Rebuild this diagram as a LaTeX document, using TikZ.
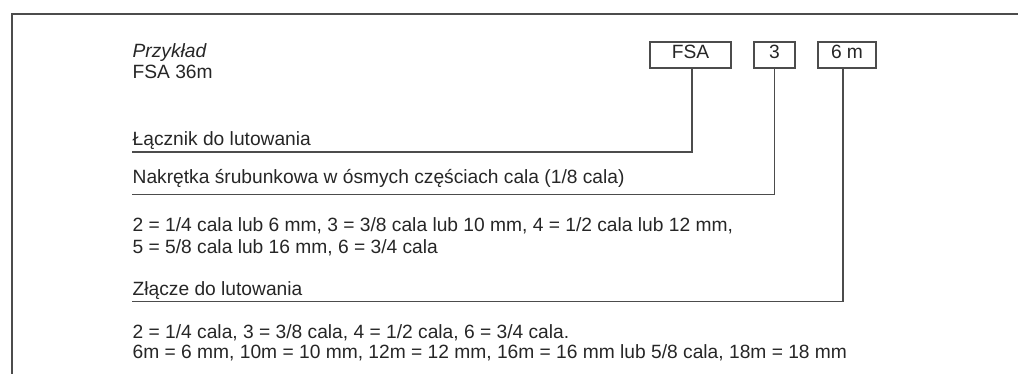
\documentclass[tikz,border=0pt]{standalone}
\usepackage{fontspec}
\setmainfont{Liberation Sans}

\begin{document}
\begin{tikzpicture}[x=1pt,y=-1pt,line width=1.3pt]
 \tikzstyle{every node}=[inner sep=0pt,text=black!85,font=\fontsize{19.2}{22}\selectfont]
 \tikzstyle{codebox}=[draw=black!70,minimum height=26pt,text height=13.5pt,text depth=5.5pt]
 \tikzstyle{lead}=[draw=black!70]
 \tikzstyle{txt}=[anchor=base west]
 \useasboundingbox (0,0) rectangle (1018,374);

 \draw[lead] (12,374) -- (12,14) -- (1018,14); % frame

 \node (fsa) at (690.5,55) [codebox,minimum width=81pt] {FSA};
 \node (three) at (774.5,55) [codebox,minimum width=41pt] {3};
 \node (sixm) at (847,55) [codebox,minimum width=58pt] {6 m};

 \node (przyklad) at (132,57.5) [txt] {\itshape Przykład};
 \node (example) at (132,78.5) [txt] {FSA 36m};
 \node (lacznik) at (132,146) [txt] {Łącznik do lutowania};
 \node (nakretka) at (132,184) [txt] {Nakrętka śrubunkowa w ósmych częściach cala (1/8 cala)};
 \node (sizesA) at (132,232) [txt] {2 = 1/4 cala lub 6 mm, 3 = 3/8 cala lub 10 mm, 4 = 1/2 cala lub 12 mm,};
 \node (sizesB) at (132,254) [txt] {5 = 5/8 cala lub 16 mm, 6 = 3/4 cala};
 \node (zlacze) at (132,295) [txt] {Złącze do lutowania};
 \node (pipesA) at (132,338.5) [txt] {2 = 1/4 cala, 3 = 3/8 cala, 4 = 1/2 cala, 6 = 3/4 cala.};
 \node (pipesB) at (132,358.5) [txt] {6m = 6 mm, 10m = 10 mm, 12m = 12 mm, 16m = 16 mm lub 5/8 cala, 18m = 18 mm};

 \coordinate (lacznikEnd) at (132,152);
 \coordinate (nakretkaEnd) at (132,194.5);
 \coordinate (zlaczeEnd) at (132,301.5);

 \draw[lead] ([xshift=1.5pt]fsa.south) |- (lacznikEnd);
 \draw[lead] (three.south) |- (nakretkaEnd);
 \draw[lead] ([xshift=-4pt]sixm.south) |- (zlaczeEnd);

\end{tikzpicture}
\end{document}
